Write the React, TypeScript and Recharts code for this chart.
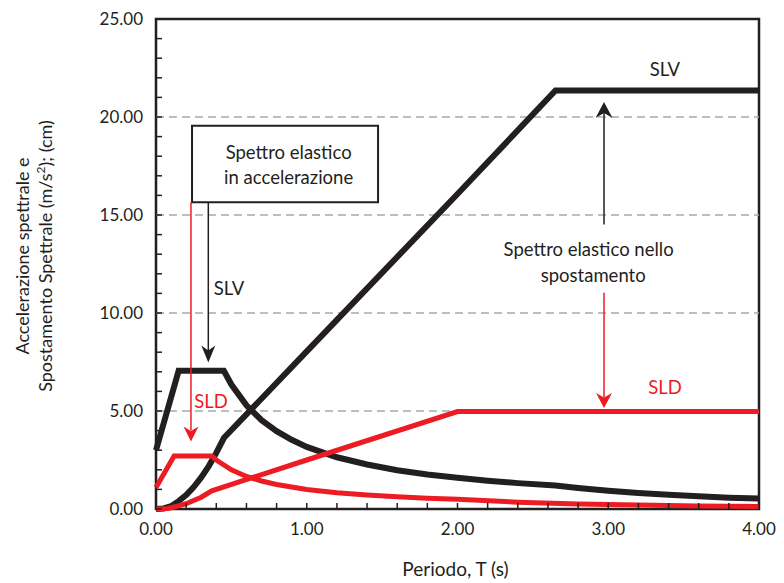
import {
  LineChart,
  Line,
  XAxis,
  YAxis,
  ReferenceLine,
  ReferenceArea,
  ReferenceDot,
} from "recharts";

const INK = "#231f20";
const RED = "#ed1c24";
const GRID = "#a7a9ac";
const FONT = "Lato, 'Open Sans', sans-serif";

// tick values (labels only on the round ones)
const periodTicks = [0, 0.2, 0.4, 0.6, 0.8, 1, 1.2, 1.4, 1.6, 1.8, 2, 2.2, 2.4, 2.6, 2.8, 3, 3.2, 3.4, 3.6, 3.8, 4];
const valueTicks = [0, 1, 2, 3, 4, 5, 6, 7, 8, 9, 10, 11, 12, 13, 14, 15, 16, 17, 18, 19, 20, 21, 22, 23, 24, 25];
const gridValues = [5, 10, 15, 20];

// SLV - spettro in accelerazione (m/s2)
const slvAccT = [0, 0.15, 0.45, 0.5, 0.6, 0.7, 0.8, 0.9, 1.0, 1.2, 1.4, 1.6, 1.8, 2.0, 2.2, 2.4, 2.65, 2.8, 3.0, 3.2, 3.4, 3.6, 3.8, 4.0];
const slvAccV = [3.0, 7.05, 7.05, 6.35, 5.29, 4.53, 3.97, 3.53, 3.17, 2.64, 2.27, 1.98, 1.76, 1.59, 1.44, 1.32, 1.2, 1.07, 0.93, 0.82, 0.73, 0.65, 0.58, 0.53];

// SLV - spettro in spostamento (cm)
const slvDispT = [0, 0.05, 0.1, 0.15, 0.2, 0.25, 0.3, 0.35, 0.4, 0.45, 1.0, 2.0, 2.65, 4.0];
const slvDispV = [0, 0.03, 0.14, 0.4, 0.71, 1.12, 1.61, 2.19, 2.86, 3.62, 8.04, 16.07, 21.35, 21.35];

// SLD - spettro in accelerazione (m/s2)
const sldAccT = [0, 0.12, 0.37, 0.4, 0.5, 0.6, 0.7, 0.8, 1.0, 1.2, 1.4, 1.6, 1.8, 2.0, 2.4, 2.8, 3.2, 3.6, 4.0];
const sldAccV = [1.1, 2.7, 2.7, 2.5, 2.0, 1.66, 1.43, 1.25, 1.0, 0.83, 0.71, 0.62, 0.55, 0.5, 0.35, 0.26, 0.2, 0.15, 0.13];

// SLD - spettro in spostamento (cm)
const sldDispT = [0, 0.04, 0.08, 0.12, 0.2, 0.3, 0.37, 1.0, 2.0, 4.0];
const sldDispV = [0, 0.01, 0.03, 0.1, 0.27, 0.6, 0.93, 2.5, 4.97, 4.97];

const toRows = (t: number[], v: number[]) => t.map((x, i) => ({ t: x, v: v[i] }));

const isRound = (v: number) => Math.abs(v - Math.round(v)) < 1e-6;

const YTick = ({ x, y, payload }: any) => {
  const ax = x + 13;
  return (
    <g>
      <line x1={ax} x2={ax + 6} y1={y} y2={y} stroke={INK} strokeWidth={1.5} />
      {payload.value % 5 === 0 && (
        <text x={x} y={y} dy={6} textAnchor="end" fill={INK} fontSize={17} fontFamily={FONT}>
          {payload.value.toFixed(2)}
        </text>
      )}
    </g>
  );
};

const XTick = ({ x, y, payload }: any) => {
  const ay = y - 10;
  return (
    <g>
      <line x1={x} x2={x} y1={ay} y2={ay - 6} stroke={INK} strokeWidth={1.5} />
      {isRound(payload.value) && (
        <text x={x} y={y} dy={16} textAnchor="middle" fill={INK} fontSize={17} fontFamily={FONT}>
          {payload.value.toFixed(2)}
        </text>
      )}
    </g>
  );
};

const yTitle = (props: any) => {
  const vb = props.viewBox;
  const cy = vb.y + vb.height / 2 - 8;
  return (
    <g fill={INK} fontSize={18} fontFamily={FONT} textAnchor="middle">
      <text x={23} y={cy} transform={`rotate(-90 23 ${cy})`} dy={6}>
        Accelerazione spettrale e
      </text>
      <text x={46} y={cy} transform={`rotate(-90 46 ${cy})`} dy={6}>
        Spostamento Spettrale (m/s<tspan dy={-7} fontSize={12}>2</tspan>
        <tspan dy={7}>); (cm)</tspan>
      </text>
    </g>
  );
};

const xTitle = (props: any) => {
  const vb = props.viewBox;
  return (
    <text x={vb.x + vb.width / 2 - 2} y={576} textAnchor="middle" fill={INK} fontSize={19} fontFamily={FONT}>
      Periodo, T (s)
    </text>
  );
};

const txt = (label: string, color: string, size = 18.5) => (p: any) => (
  <text x={p.cx} y={p.cy} dy={6.5} textAnchor="middle" fill={color} fontSize={size} fontFamily={FONT}>
    {label}
  </text>
);

const head = (color: string, dir: 1 | -1, w: number, len: number) => (p: any) => {
  const { cx, cy } = p;
  const b = cy - dir * len;
  const n = cy - dir * len * 0.7;
  return (
    <polygon
      points={`${cx},${cy} ${cx - w / 2},${b} ${cx},${n} ${cx + w / 2},${b}`}
      fill={color}
    />
  );
};

export default function App() {
  return (
    <div style={{ position: "absolute", left: 0, top: 0, background: "#fff" }}>
      <LineChart width={784} height={583} margin={{ top: 19, right: 25, left: 0, bottom: 0 }}>
        <XAxis
          type="number"
          dataKey="t"
          domain={[0, 4]}
          ticks={periodTicks}
          interval={0}
          axisLine={false}
          tickLine={false}
          tickSize={0}
          tickMargin={10}
          height={74}
          tick={(p: any) => <XTick {...p} />}
          label={xTitle}
          allowDuplicatedCategory={false}
        />
        <YAxis
          type="number"
          domain={[0, 25]}
          ticks={valueTicks}
          interval={0}
          axisLine={false}
          tickLine={false}
          tickSize={0}
          tickMargin={13}
          width={156}
          tick={(p: any) => <YTick {...p} />}
          label={yTitle}
        />

        {gridValues.map((g) => (
          <ReferenceLine key={g} y={g} stroke={GRID} strokeWidth={1.5} strokeDasharray="8 5" />
        ))}

        <ReferenceArea x1={0} x2={4} y1={0} y2={25} fill="none" stroke={INK} strokeWidth={2.5} />

        <Line data={toRows(slvAccT, slvAccV)} dataKey="v" stroke={INK} strokeWidth={6} dot={false} isAnimationActive={false} />
        <Line data={toRows(slvDispT, slvDispV)} dataKey="v" stroke={INK} strokeWidth={6} dot={false} isAnimationActive={false} />
        <Line data={toRows(sldAccT, sldAccV)} dataKey="v" stroke={RED} strokeWidth={5} dot={false} isAnimationActive={false} />
        <Line data={toRows(sldDispT, sldDispV)} dataKey="v" stroke={RED} strokeWidth={5} dot={false} isAnimationActive={false} />

        {/* riquadro "Spettro elastico in accelerazione" */}
        <ReferenceArea x1={0.239} x2={1.473} y1={15.65} y2={19.55} fill="#fff" fillOpacity={1} stroke={INK} strokeWidth={2} />
        <ReferenceDot x={0.88} y={18.17} r={0} shape={txt("Spettro elastico", INK)} />
        <ReferenceDot x={0.88} y={16.92} r={0} shape={txt("in accelerazione", INK)} />

        <ReferenceLine segment={[{ x: 0.232, y: 15.65 }, { x: 0.232, y: 4.0 }]} stroke={RED} strokeWidth={1.5} />
        <ReferenceDot x={0.232} y={3.44} r={0} shape={head(RED, 1, 15, 15)} />
        <ReferenceLine segment={[{ x: 0.347, y: 15.65 }, { x: 0.347, y: 8.0 }]} stroke={INK} strokeWidth={1.5} />
        <ReferenceDot x={0.347} y={7.48} r={0} shape={head(INK, 1, 14, 17)} />
        <ReferenceDot x={0.484} y={11.25} r={0} shape={txt("SLV", INK)} />
        <ReferenceDot x={0.365} y={5.5} r={0} shape={txt("SLD", RED)} />

        {/* "Spettro elastico nello spostamento" */}
        <ReferenceDot x={2.87} y={13.24} r={0} shape={txt("Spettro elastico nello", INK)} />
        <ReferenceDot x={2.9} y={11.9} r={0} shape={txt("spostamento", INK)} />
        <ReferenceLine segment={[{ x: 2.972, y: 14.52 }, { x: 2.972, y: 20.2 }]} stroke={INK} strokeWidth={1.5} />
        <ReferenceDot x={2.972} y={20.77} r={0} shape={head(INK, -1, 17, 16)} />
        <ReferenceLine segment={[{ x: 2.972, y: 11.03 }, { x: 2.972, y: 5.7 }]} stroke={RED} strokeWidth={1.5} />
        <ReferenceDot x={2.972} y={5.15} r={0} shape={head(RED, 1, 16, 15)} />
        <ReferenceDot x={3.376} y={22.44} r={0} shape={txt("SLV", INK)} />
        <ReferenceDot x={3.376} y={6.21} r={0} shape={txt("SLD", RED)} />
      </LineChart>
    </div>
  );
}
